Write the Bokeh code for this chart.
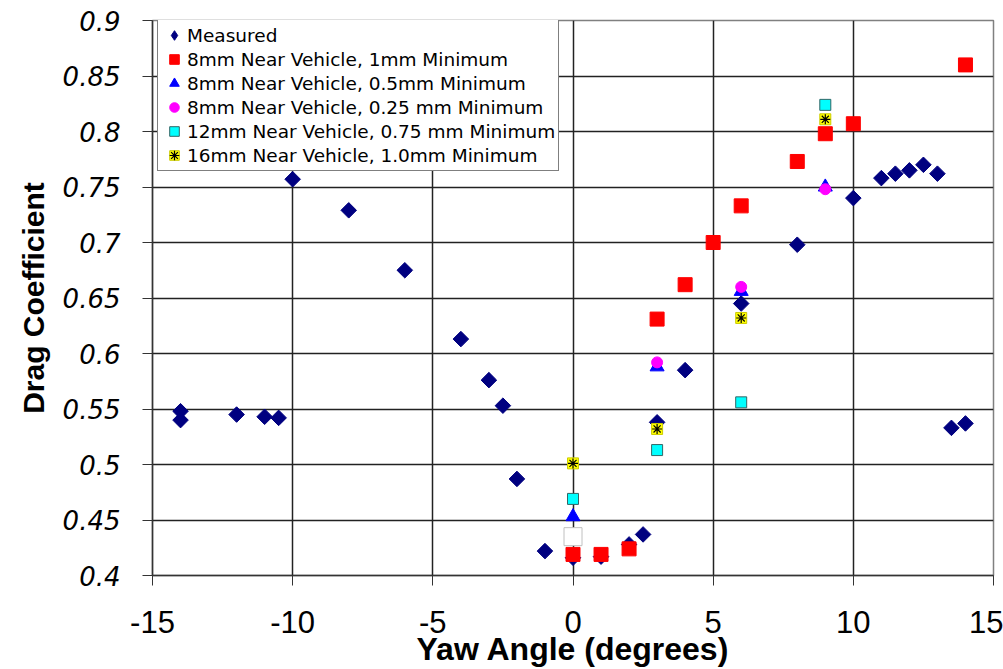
import math
from bokeh.plotting import figure
from bokeh.models import Range1d, Legend, LegendItem, FixedTicker, PrintfTickFormatter
from bokeh.embed import file_html
from bokeh.resources import INLINE

# Measured
meas_x = [-14, -14, -12, -11, -10.5, -10, -8, -6, -4, -3, -2.5, -2, -1, 0, 1, 2, 2.5,
          3, 4, 6, 8, 10, 11, 11.5, 12, 12.5, 13, 13.5, 14]
meas_y = [0.548, 0.540, 0.545, 0.543, 0.542, 0.757, 0.729, 0.675, 0.613, 0.576, 0.553, 0.487,
          0.422, 0.416, 0.417, 0.428, 0.437, 0.538, 0.585, 0.645, 0.698, 0.740, 0.758, 0.762,
          0.765, 0.770, 0.762, 0.533, 0.537]
# 8mm Near Vehicle, 1mm Minimum
s1_x = [0, 1, 2, 3, 4, 5, 6, 8, 9, 10, 14]
s1_y = [0.419, 0.419, 0.424, 0.631, 0.662, 0.700, 0.733, 0.773, 0.798, 0.807, 0.860]
# 8mm Near Vehicle, 0.5mm Minimum
s2_x = [0, 3, 6, 9]
s2_y = [0.453, 0.588, 0.656, 0.750]
# 8mm Near Vehicle, 0.25 mm Minimum
s3_x = [3, 6, 9]
s3_y = [0.592, 0.660, 0.748]
# 12mm Near Vehicle, 0.75 mm Minimum
s4_x = [0, 3, 6, 9]
s4_y = [0.469, 0.513, 0.556, 0.824]
# 16mm Near Vehicle, 1.0mm Minimum
s5_x = [0, 3, 6, 9]
s5_y = [0.501, 0.532, 0.632, 0.811]
# unlabeled blank marker
blank_x = [0]
blank_y = [0.435]

labels = ["Measured", "8mm Near Vehicle, 1mm Minimum", "8mm Near Vehicle, 0.5mm Minimum",
          "8mm Near Vehicle, 0.25 mm Minimum", "12mm Near Vehicle, 0.75 mm Minimum",
          "16mm Near Vehicle, 1.0mm Minimum"]
x_ticks = [-15, -10, -5, 0, 5, 10, 15]
y_ticks = [0.4, 0.45, 0.5, 0.55, 0.6, 0.65, 0.7, 0.75, 0.8, 0.85, 0.9]

p = figure(width=1003, height=669, output_backend="svg", toolbar_location=None,
           x_range=Range1d(-15, 15), y_range=Range1d(0.4, 0.9),
           min_border_left=152, min_border_right=10, min_border_top=20, min_border_bottom=94)
p.background_fill_color = "white"
p.border_fill_color = "white"
p.outline_line_color = "#808080"
p.outline_line_width = 1.5

for ax in (p.xaxis[0], p.yaxis[0]):
    ax.axis_line_color = "#333333"
    ax.axis_line_width = 1.5
    ax.major_tick_line_color = "#333333"
    ax.major_tick_out = 10
    ax.major_tick_in = 0
    ax.minor_tick_line_color = None
    ax.major_label_text_color = "black"
    ax.axis_label_text_color = "black"
    ax.axis_label_text_font = "Liberation Sans"
    ax.axis_label_text_font_style = "bold"

p.xaxis.ticker = FixedTicker(ticks=x_ticks)
p.xaxis.formatter = PrintfTickFormatter(format="%d")
p.yaxis.ticker = FixedTicker(ticks=y_ticks)
p.xaxis.major_label_text_font = "Liberation Sans"
p.xaxis.major_label_text_font_size = "31px"
p.xaxis.major_label_standoff = 25
p.yaxis.major_label_text_font = "DejaVu Sans"
p.yaxis.major_label_text_font_style = "italic"
p.yaxis.major_label_text_font_size = "26px"
p.yaxis.major_label_standoff = 22
p.xaxis.axis_label = "Yaw Angle (degrees)"
p.yaxis.axis_label = "Drag Coefficient"
p.xaxis.axis_label_text_font_size = "32px"
p.yaxis.axis_label_text_font_size = "30px"
p.xaxis.axis_label_standoff = -5
p.yaxis.axis_label_standoff = 10

p.xgrid.ticker = FixedTicker(ticks=x_ticks)
p.ygrid.ticker = FixedTicker(ticks=y_ticks)
p.grid.grid_line_color = "#222222"
p.grid.grid_line_width = 1.5

# diamond renderer used for the legend swatch (sits beneath the data markers)
r0_leg = p.scatter(meas_x, meas_y, marker="diamond", size=8,
                   fill_color="#000080", line_color="#000080")
r0 = p.scatter(meas_x, meas_y, marker="square", angle=math.pi / 4, size=11,
               fill_color="#000080", line_color="#000080")
rb = p.scatter(blank_x, blank_y, marker="square", size=18, fill_color="white", line_color="#c0c0c0")
r1 = p.scatter(s1_x, s1_y, marker="square", size=14, fill_color="#ff0000", line_color="#ff0000")
r2 = p.scatter(s2_x, s2_y, marker="triangle", size=14, fill_color="#0000ff", line_color="#0000ff")
r3 = p.scatter(s3_x, s3_y, marker="circle", size=11, fill_color="#ff00ff", line_color="#ff00ff")
r4 = p.scatter(s4_x, s4_y, marker="square", size=11, fill_color="#00ffff", line_color="#336666")
r5a = p.scatter(s5_x, s5_y, marker="square", size=11, fill_color="#ffff00", line_color="#cccc00")
r5b = p.scatter(s5_x, s5_y, marker="asterisk", size=10, line_color="black", line_width=1.2)

legend = Legend(items=[
    LegendItem(label=labels[0], renderers=[r0_leg]),
    LegendItem(label=labels[1], renderers=[r1]),
    LegendItem(label=labels[2], renderers=[r2]),
    LegendItem(label=labels[3], renderers=[r3]),
    LegendItem(label=labels[4], renderers=[r4]),
    LegendItem(label=labels[5], renderers=[r5a, r5b]),
], location=(5, 404))
legend.label_text_font = "DejaVu Sans"
legend.label_text_font_size = "18.5px"
legend.label_text_color = "black"
legend.label_height = 24
legend.glyph_height = 24
legend.glyph_width = 26
legend.label_standoff = 0
legend.spacing = 0
legend.padding = 3
legend.margin = 0
legend.border_line_color = "black"
legend.border_line_width = 1
legend.background_fill_color = "white"
legend.background_fill_alpha = 1.0
p.add_layout(legend, "center")

open("out.html", "w").write(file_html(p, INLINE))
